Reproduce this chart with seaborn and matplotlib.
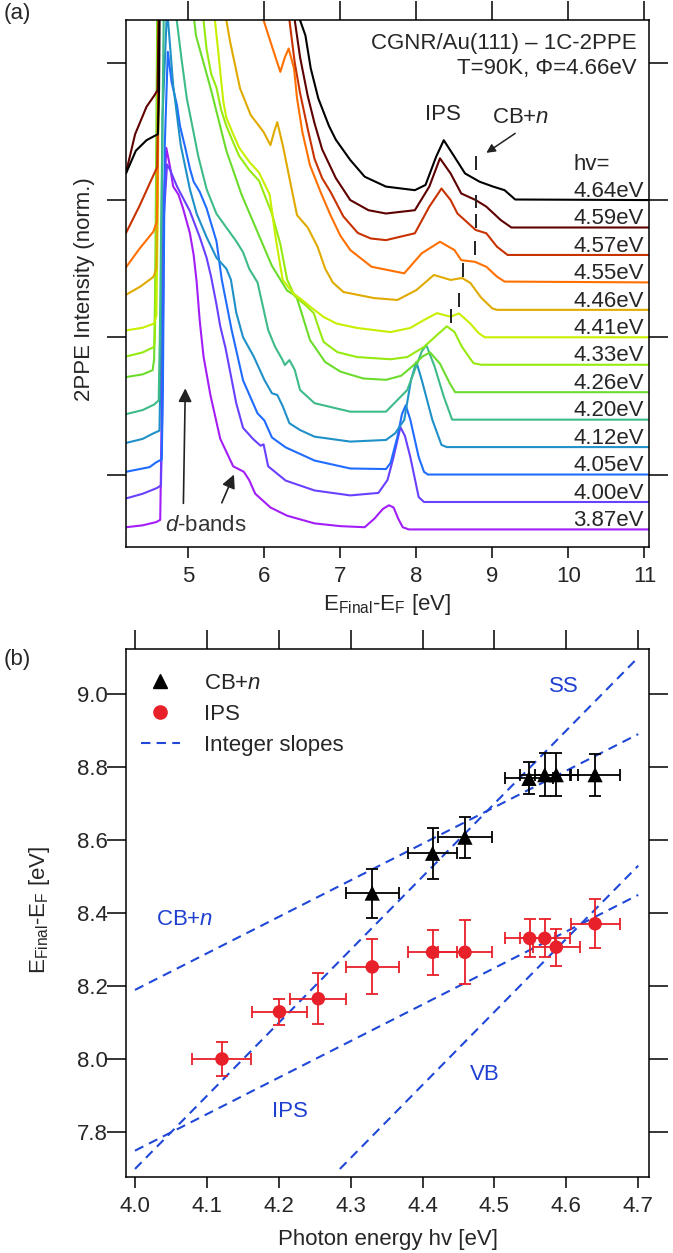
import numpy as np
import pandas as pd
import matplotlib
matplotlib.use("Agg")
import matplotlib.pyplot as plt
from matplotlib.lines import Line2D
import seaborn as sns

# ----------------------------------------------------------------- panel (a)
hv_labels = ["3.87eV", "4.00eV", "4.05eV", "4.12eV", "4.20eV", "4.26eV", "4.33eV",
             "4.41eV", "4.46eV", "4.55eV", "4.57eV", "4.59eV", "4.64eV"]
curve_colors = ["#a31ef6", "#6a40ff", "#1f6cff", "#1f90c8", "#3dbb88", "#6cdc2c", "#96ea10",
                "#c6f000", "#e0aa00", "#ff7000", "#c83200", "#5e0000", "#000000"]

E_387 = [4.18, 4.40, 4.58, 4.63, 4.645, 4.67, 4.71, 4.76, 4.80, 4.87, 4.93, 5.02, 5.07, 5.11, 5.15, 5.20,
         5.29, 5.42, 5.59, 5.73, 5.80, 5.88, 6.08, 6.30, 6.66, 7.00, 7.32, 7.45, 7.56, 7.64, 7.70, 7.76,
         7.82, 7.90, 11.05]
H_387 = [0.08, 0.15, 0.27, 0.35, 3.0, 11.5, 13.9, 13.2, 12.5, 12.2, 11.7, 10.8, 10.0, 9.0, 7.6, 6.3,
         4.9, 3.3, 2.3, 2.1, 1.8, 1.3, 0.8, 0.5, 0.22, 0.12, 0.08, 0.4, 0.75, 0.88, 0.8, 0.4,
         0.08, 0.0, 0.0]
E_400 = [4.18, 4.40, 4.58, 4.64, 4.655, 4.68, 4.72, 4.76, 4.85, 5.02, 5.15, 5.24, 5.30, 5.37, 5.42, 5.49,
         5.63, 5.72, 5.85, 5.95, 5.99, 6.05, 6.28, 6.66, 7.13, 7.50, 7.62, 7.70, 7.79, 7.85, 7.92, 8.03,
         8.10, 11.05]
H_400 = [0.13, 0.3, 0.5, 0.6, 3.0, 10.5, 12.3, 12.1, 11.5, 10.6, 9.65, 8.9, 8.2, 7.2, 6.4, 5.6,
         3.6, 2.7, 2.3, 2.05, 2.1, 1.3, 0.78, 0.42, 0.24, 0.33, 0.8, 1.64, 2.73, 2.4, 1.64, 0.18,
         0.0, 0.0]
E_405 = [4.18, 4.49, 4.58, 4.65, 4.665, 4.69, 4.73, 4.78, 4.85, 4.89, 4.96, 5.02, 5.07, 5.15, 5.24, 5.37,
         5.44, 5.57, 5.72, 5.91, 6.00, 6.10, 6.28, 6.66, 7.13, 7.60, 7.66, 7.75, 7.81, 7.86, 7.92, 8.03,
         8.10, 8.15, 11.05]
H_405 = [0.1, 0.27, 0.45, 0.55, 3.0, 12.0, 15.4, 14.3, 13.46, 12.7, 11.9, 11.15, 10.67, 10.3, 9.7, 8.5,
         7.1, 5.26, 3.43, 2.23, 1.97, 1.35, 0.99, 0.51, 0.22, 0.2, 0.42, 1.37, 2.2, 2.52, 2.0, 0.64,
         0.1, 0.0, 0.0]
E_412 = [4.18, 4.40, 4.54, 4.62, 4.635, 4.66, 4.72, 4.80, 4.90, 5.02, 5.11, 5.24, 5.37, 5.50, 5.56, 5.63,
         5.72, 5.86, 6.00, 6.10, 6.17, 6.24, 6.33, 6.47, 6.66, 7.13, 7.60, 7.72, 7.84, 7.93, 8.00, 8.07,
         8.21, 8.33, 8.40, 11.05]
H_412 = [0.15, 0.3, 0.5, 0.6, 3.0, 12.0, 16.0, 13.2, 11.0, 9.4, 8.5, 7.65, 6.9, 6.5, 6.1, 4.9,
         4.0, 3.3, 2.45, 1.96, 1.9, 1.5, 0.87, 0.62, 0.38, 0.2, 0.26, 0.5, 0.99, 2.45, 3.1, 2.45,
         0.99, 0.08, 0.0, 0.0]
E_420 = [4.18, 4.40, 4.55, 4.61, 4.625, 4.70, 4.85, 4.91, 4.98, 5.07, 5.13, 5.24, 5.37, 5.50, 5.63, 5.72,
         5.80, 5.91, 6.05, 6.14, 6.24, 6.27, 6.33, 6.40, 6.47, 6.66, 7.13, 7.60, 7.88, 8.07, 8.13, 8.24,
         8.36, 8.47, 11.05]
H_420 = [0.2, 0.35, 0.55, 0.7, 3.0, 20.0, 14.5, 13.15, 11.7, 10.45, 9.6, 8.4, 7.5, 7.0, 6.5, 6.1,
         5.5, 5.0, 3.27, 2.66, 2.17, 1.99, 2.17, 1.81, 1.08, 0.6, 0.29, 0.29, 1.08, 2.48, 2.72, 1.93,
         0.84, 0.0, 0.0]
E_426 = [4.18, 4.40, 4.53, 4.55, 4.565, 4.62, 5.10, 5.30, 5.50, 5.70, 5.90, 6.10, 6.30, 6.42, 6.50, 6.60,
         6.80, 7.00, 7.30, 7.60, 7.80, 7.95, 8.08, 8.18, 8.31, 8.44, 8.51, 11.05]
H_426 = [0.55, 0.65, 0.8, 1.2, 4.0, 25.0, 13.0, 11.0, 8.8, 7.2, 5.9, 4.6, 3.7, 3.5, 2.8, 1.9,
         1.1, 0.75, 0.5, 0.45, 0.6, 0.95, 1.3, 1.45, 1.04, 0.32, 0.0, 0.0]
E_433 = [4.18, 4.40, 4.55, 4.56, 4.575, 4.63, 5.20, 5.24, 5.30, 5.37, 5.43, 5.50, 5.59, 5.67, 5.80, 5.93,
         6.10, 6.21, 6.30, 6.40, 6.55, 6.65, 6.72, 6.78, 6.96, 7.22, 7.66, 7.88, 8.10, 8.27, 8.40, 8.50,
         8.60, 8.75, 8.85, 11.05]
H_433 = [0.3, 0.45, 0.65, 1.0, 4.0, 25.0, 12.55, 11.5, 10.6, 10.1, 9.3, 8.7, 8.1, 7.6, 7.1, 6.7,
         5.5, 4.4, 3.1, 2.5, 2.15, 1.88, 1.3, 0.83, 0.46, 0.28, 0.2, 0.28, 0.65, 1.08, 1.4, 1.2,
         0.65, 0.06, 0.0, 0.0]
E_441 = [4.18, 4.40, 4.55, 4.58, 4.595, 4.65, 5.35, 5.39, 5.43, 5.46, 5.50, 5.59, 5.67, 5.80, 5.93, 6.07,
         6.15, 6.24, 6.38, 6.50, 6.61, 6.78, 6.95, 7.22, 7.66, 7.92, 8.10, 8.27, 8.45, 8.56, 8.71, 8.82,
         8.90, 11.05]
H_441 = [0.25, 0.35, 0.5, 0.8, 4.0, 25.0, 11.55, 10.5, 9.4, 8.6, 8.0, 7.4, 6.9, 6.4, 6.0, 5.2,
         3.6, 2.1, 1.6, 1.35, 1.1, 0.74, 0.5, 0.34, 0.19, 0.34, 0.63, 0.88, 0.75, 0.87, 0.5, 0.15,
         0.0, 0.0]
E_446 = [4.18, 4.37, 4.54, 4.58, 4.595, 4.65, 5.50, 5.55, 5.68, 5.82, 5.99, 6.08, 6.13, 6.17, 6.25, 6.34,
         6.43, 6.57, 6.70, 6.80, 6.90, 7.04, 7.44, 7.75, 8.00, 8.23, 8.45, 8.60, 8.71, 8.85, 9.00, 9.06,
         11.05]
H_446 = [0.55, 0.85, 1.2, 1.5, 4.0, 25.0, 10.55, 9.76, 8.07, 7.1, 6.48, 6.0, 6.5, 6.84, 5.9, 4.66,
         3.45, 3.0, 2.3, 1.5, 1.0, 0.65, 0.43, 0.36, 0.72, 1.27, 1.09, 1.16, 0.98, 0.45, 0.05, 0.0,
         0.0]
E_455 = [4.18, 4.35, 4.54, 4.585, 4.60, 4.65, 5.99, 6.10, 6.21, 6.27, 6.32, 6.39, 6.43, 6.50, 6.60, 6.74,
         6.87, 7.00, 7.13, 7.41, 7.84, 8.07, 8.31, 8.50, 8.59, 8.77, 8.92, 9.06, 9.16, 11.05]
H_455 = [0.55, 1.2, 1.85, 2.2, 5.0, 25.0, 9.55, 8.6, 7.67, 8.2, 8.52, 7.8, 6.71, 5.48, 4.27, 3.29,
         2.45, 1.7, 1.18, 0.57, 0.33, 1.06, 1.48, 1.18, 0.81, 0.75, 0.57, 0.21, 0.03, 0.0]
E_457 = [4.18, 4.36, 4.54, 4.59, 4.605, 4.66, 6.33, 6.40, 6.47, 6.57, 6.66, 6.76, 6.87, 7.04, 7.23, 7.40,
         7.60, 7.98, 8.17, 8.33, 8.45, 8.54, 8.78, 8.92, 9.06, 9.20, 11.05]
H_457 = [0.8, 1.8, 2.9, 3.2, 6.0, 25.0, 8.55, 7.0, 5.9, 4.6, 3.5, 2.8, 2.3, 1.4, 0.8, 0.6,
         0.54, 0.79, 1.76, 2.42, 2.0, 1.51, 0.91, 0.79, 0.3, 0.0, 0.0]
E_459 = [4.18, 4.30, 4.45, 4.55, 4.595, 4.61, 4.66, 6.40, 6.47, 6.57, 6.66, 6.76, 6.94, 7.13, 7.37, 7.60,
         7.98, 8.17, 8.31, 8.45, 8.59, 8.78, 8.92, 9.11, 9.25, 11.05]
H_459 = [2.0, 3.4, 4.4, 4.8, 5.0, 7.5, 25.0, 7.55, 6.2, 4.8, 3.8, 2.85, 1.8, 1.0, 0.63, 0.51,
         0.63, 1.49, 2.52, 1.97, 1.24, 1.0, 0.76, 0.27, 0.0, 0.0]
E_464 = [4.18, 4.31, 4.45, 4.53, 4.60, 4.615, 4.67, 6.47, 6.54, 6.61, 6.71, 6.85, 6.94, 7.13, 7.32, 7.60,
         7.98, 8.12, 8.26, 8.36, 8.50, 8.64, 8.83, 9.01, 9.16, 9.30, 11.05]
H_464 = [0.97, 1.8, 2.18, 2.3, 2.4, 4.0, 25.0, 6.55, 6.0, 4.8, 3.7, 2.7, 2.2, 1.46, 0.85, 0.49,
         0.36, 0.55, 1.58, 2.18, 1.58, 0.97, 0.67, 0.49, 0.36, 0.02, 0.0]

E_curves = [E_387, E_400, E_405, E_412, E_420, E_426, E_433, E_441, E_446, E_455, E_457, E_459, E_464]
H_curves = [H_387, H_400, H_405, H_412, H_420, H_426, H_433, H_441, H_446, H_455, H_457, H_459, H_464]

# CB+n marks on spectra (curves 4.33 ... 4.64) : lower end of the tick above baseline
dash_curve_idx = [6, 7, 8, 9, 10, 11, 12]
dash_low = [1.52, 1.11, 1.2, 1.0, 1.0, 0.7, 1.1]

# ----------------------------------------------------------------- panel (b)
cb_hv = [4.330, 4.414, 4.459, 4.548, 4.570, 4.586, 4.640]
cb_E = [8.455, 8.564, 8.608, 8.769, 8.779, 8.779, 8.779]
cb_xerr = [0.037, 0.034, 0.038, 0.034, 0.035, 0.030, 0.034]
cb_yerr = [0.067, 0.070, 0.056, 0.044, 0.059, 0.059, 0.057]

ips_hv = [4.121, 4.201, 4.255, 4.330, 4.414, 4.459, 4.549, 4.570, 4.586, 4.640]
ips_E = [8.001, 8.130, 8.166, 8.253, 8.293, 8.293, 8.331, 8.331, 8.307, 8.371]
ips_xerr = [0.041, 0.0385, 0.039, 0.037, 0.034, 0.038, 0.035, 0.035, 0.033, 0.034]
ips_yerr = [0.046, 0.036, 0.070, 0.075, 0.062, 0.087, 0.052, 0.052, 0.051, 0.067]

slope_names = ["SS", "CB+n", "IPS", "VB"]
slope_values = [2, 1, 1, 2]
slope_E_at_4 = [7.70, 8.19, 7.75, 7.13]
slope_hv_start = [4.0, 4.0, 4.0, 4.285]
slope_hv_end = [4.7, 4.7, 4.7, 4.7]

# ----------------------------------------------------------------- style
sns.set_theme(style="ticks")
plt.rcParams["font.family"] = ["Liberation Sans", "DejaVu Sans"]
plt.rcParams["mathtext.fontset"] = "custom"
plt.rcParams["mathtext.rm"] = "Liberation Sans"
plt.rcParams["mathtext.it"] = "Liberation Sans:italic"
plt.rcParams["mathtext.bf"] = "Liberation Sans:bold"
plt.rcParams["axes.linewidth"] = 1.1
plt.rcParams["axes.edgecolor"] = "black"
FS = 16
BLUE_TXT = "#1f3fd1"
BLUE_LN = "#1f48d8"
RED = "#e8202a"

fig = plt.figure(figsize=(6.73, 12.53), dpi=100)
ax1 = fig.add_axes([126 / 673, 1 - 547 / 1253, 523 / 673, 527 / 1253])
ax2 = fig.add_axes([126 / 673, 1 - 1177 / 1253, 523 / 673, 528 / 1253])

# ---- panel (a)
rows = []
for k, (lab, E, H) in enumerate(zip(hv_labels, E_curves, H_curves)):
    for e, h in zip(E, H):
        rows.append((lab, e, k + h))
df = pd.DataFrame(rows, columns=["hv", "E", "I"])
sns.lineplot(data=df, x="E", y="I", hue="hv", hue_order=hv_labels,
             palette=dict(zip(hv_labels, curve_colors)), estimator=None, sort=False,
             legend=False, linewidth=1.5, ax=ax1)

for ci, lo, e in zip(dash_curve_idx, dash_low, cb_E):
    ax1.vlines(e, ci + lo, ci + lo + 0.5, color="#222222", lw=1.4)

for k, lab in enumerate(hv_labels):
    ax1.text(10.99, k + 0.12, lab, ha="right", va="baseline", fontsize=FS)
ax1.text(10.07, 13.31, "hv=", ha="left", va="center", fontsize=FS)
ax1.text(10.9, 17.7, "CGNR/Au(111) \u2013 1C-2PPE", ha="right", va="center", fontsize=FS)
ax1.text(10.9, 16.8, "T=90K, \u03a6=4.66eV", ha="right", va="center", fontsize=FS)
ax1.text(8.35, 15.1, "IPS", ha="center", va="center", fontsize=FS)
ax1.text(8.99, 15.0, "CB+$n$", ha="left", va="center", fontsize=FS)
ax1.annotate("", xy=(8.92, 13.72), xytext=(9.30, 14.43),
             arrowprops=dict(arrowstyle="-|>", color="#222222", lw=1.1, mutation_scale=13,
                             shrinkA=0, shrinkB=0))
ax1.text(5.23, 0.16, "$d$-bands", ha="center", va="center", fontsize=FS, color="#333333")
ax1.annotate("", xy=(4.96, 5.14), xytext=(4.935, 0.95),
             arrowprops=dict(arrowstyle="-|>", color="#222222", lw=1.2, mutation_scale=20,
                             shrinkA=0, shrinkB=0))
ax1.annotate("", xy=(5.60, 2.0), xytext=(5.44, 0.97),
             arrowprops=dict(arrowstyle="-|>", color="#222222", lw=1.2, mutation_scale=20,
                             shrinkA=0, shrinkB=0))

ax1.set_xlim(4.18, 11.06)
ax1.set_ylim(-0.64, 18.56)
ax1.set_xticks([5, 6, 7, 8, 9, 10, 11])
ax1.set_yticks([2, 7, 12, 17])
ax1.tick_params(axis="both", direction="out", length=10, width=1.1, color="black",
                top=True, right=True, labeltop=False, labelright=False, labelleft=False,
                labelsize=FS, pad=6)
ax1.tick_params(axis="x", length=8)
ax1.set_xlabel("E$_{\\mathregular{Final}}$-E$_{\\mathregular{F}}$ [eV]", fontsize=FS)
ax1.xaxis.set_label_coords(0.5, -0.085)
ax1.set_ylabel("2PPE Intensity (norm.)", fontsize=FS)
ax1.yaxis.set_label_coords(-0.06, 0.49)
for sp in ax1.spines.values():
    sp.set_visible(True)
    sp.set_linewidth(1.1)
    sp.set_color("black")

# ---- panel (b)
line_rows = []
for name, m, b, x0, x1 in zip(slope_names, slope_values, slope_E_at_4, slope_hv_start, slope_hv_end):
    for x in (x0, x1):
        line_rows.append((name, x, b + m * (x - 4.0)))
ldf = pd.DataFrame(line_rows, columns=["name", "hv", "E"])
sns.lineplot(data=ldf, x="hv", y="E", hue="name", hue_order=slope_names,
             palette=[BLUE_LN] * 4, estimator=None, sort=False, legend=False,
             linewidth=1.5, dashes=False, ax=ax2, zorder=1)
for ln in ax2.get_lines():
    ln.set_dashes((4.5, 3))

ax2.errorbar(cb_hv, cb_E, xerr=cb_xerr, yerr=cb_yerr, fmt="none", ecolor="black",
             elinewidth=1.3, capsize=4.5, capthick=1.3, zorder=2)
ax2.errorbar(ips_hv, ips_E, xerr=ips_xerr, yerr=ips_yerr, fmt="none", ecolor=RED,
             elinewidth=1.3, capsize=4.5, capthick=1.3, zorder=2)
sns.scatterplot(x=cb_hv, y=cb_E, marker="^", s=120, color="black", edgecolor="none",
                ax=ax2, zorder=4, legend=False)
sns.scatterplot(x=ips_hv, y=ips_E, marker="o", s=95, color=RED, edgecolor="none",
                ax=ax2, zorder=4, legend=False)

ax2.text(4.597, 9.02, "SS", color=BLUE_TXT, ha="center", va="center", fontsize=FS)
ax2.text(4.069, 8.383, "CB+$n$", color=BLUE_TXT, ha="center", va="center", fontsize=FS)
ax2.text(4.215, 7.858, "IPS", color=BLUE_TXT, ha="center", va="center", fontsize=FS)
ax2.text(4.487, 7.958, "VB", color=BLUE_TXT, ha="center", va="center", fontsize=FS)

handles = [Line2D([], [], marker="^", color="black", ls="none", ms=10.5),
           Line2D([], [], marker="o", color=RED, ls="none", ms=9.5),
           Line2D([], [], color=BLUE_LN, lw=1.5, dashes=(4.5, 3))]
ax2.legend(handles, ["CB+$n$", "IPS", "Integer slopes"], loc="upper left",
           bbox_to_anchor=(0.028, 0.955), frameon=False, fontsize=FS, handlelength=1.75,
           handletextpad=1.1, labelspacing=0.45, borderaxespad=0, borderpad=0)

ax2.set_xlim(3.9875, 4.715)
ax2.set_ylim(7.678, 9.123)
ax2.set_xticks([4.0, 4.1, 4.2, 4.3, 4.4, 4.5, 4.6, 4.7])
ax2.set_xticklabels(["4.0", "4.1", "4.2", "4.3", "4.4", "4.5", "4.6", "4.7"])
ax2.set_yticks([7.8, 8.0, 8.2, 8.4, 8.6, 8.8, 9.0])
ax2.set_yticklabels(["7.8", "8.0", "8.2", "8.4", "8.6", "8.8", "9.0"])
ax2.tick_params(axis="both", direction="out", length=10, width=1.1, color="black",
                top=True, right=True, labeltop=False, labelright=False,
                labelsize=FS, pad=6)
ax2.tick_params(axis="x", length=8)
ax2.tick_params(axis="y", pad=3)
ax2.set_xlabel("Photon energy hv [eV]", fontsize=FS)
ax2.xaxis.set_label_coords(0.5, -0.098)
ax2.set_ylabel("E$_{\\mathregular{Final}}$-E$_{\\mathregular{F}}$ [eV]", fontsize=FS)
ax2.yaxis.set_label_coords(-0.141, 0.506)
for sp in ax2.spines.values():
    sp.set_visible(True)
    sp.set_linewidth(1.1)
    sp.set_color("black")

for ax in (ax1, ax2):
    for t in ax.xaxis.get_major_ticks():
        t.tick2line.set_markersize(14)
    for t in ax.yaxis.get_major_ticks():
        t.tick1line.set_markersize(14)
        t.tick2line.set_markersize(14)

fig.text(17 / 673, 1 - 14 / 1253, "(a)", ha="center", va="center", fontsize=FS)
fig.text(17 / 673, 1 - 660 / 1253, "(b)", ha="center", va="center", fontsize=FS)

fig.savefig("out.png", dpi=100)
